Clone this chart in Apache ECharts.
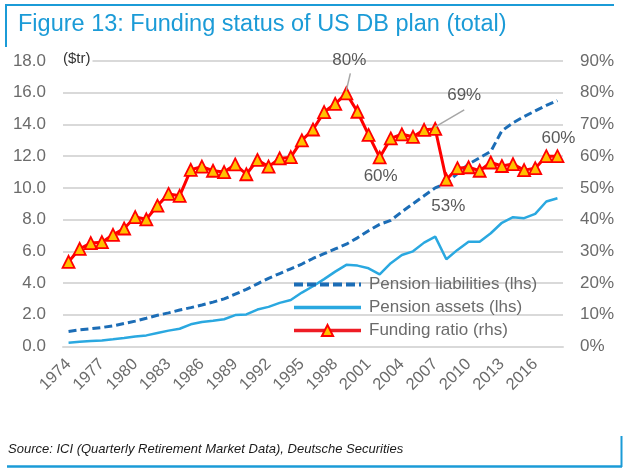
<!DOCTYPE html>
<html>
<head>
<meta charset="utf-8">
<script src="https://cdn.jsdelivr.net/npm/echarts@6/dist/echarts.min.js"></script>
<style>
html,body{margin:0;padding:0;background:#fff;}
#c{width:625px;height:476px;}
</style>
</head>
<body>
<div id="c"></div>
<script>
const years = ['1974','1975','1976','1977','1978','1979','1980','1981','1982','1983','1984','1985','1986','1987','1988','1989','1990','1991','1992','1993','1994','1995','1996','1997','1998','1999','2000','2001','2002','2003','2004','2005','2006','2007','2008','2009','2010','2011','2012','2013','2014','2015','2016','2017','2018'];
const liabilities = [0.95,1.05,1.12,1.2,1.3,1.45,1.6,1.78,1.97,2.12,2.3,2.45,2.62,2.8,3.0,3.3,3.6,3.95,4.3,4.6,4.9,5.2,5.55,5.85,6.15,6.45,6.85,7.3,7.7,7.95,8.5,9.0,9.5,10.0,10.3,10.9,11.5,11.9,12.3,13.6,14.1,14.5,14.85,15.2,15.5];
const assets = [0.24,0.3,0.35,0.38,0.45,0.53,0.63,0.7,0.85,1.0,1.12,1.4,1.55,1.62,1.72,1.98,2.02,2.33,2.5,2.75,2.93,3.4,3.8,4.25,4.72,5.15,5.1,4.93,4.55,5.25,5.77,6.0,6.55,6.93,5.5,6.09,6.61,6.61,7.14,7.8,8.15,8.09,8.36,9.14,9.35];
const fundingRatio = [26.7,30.8,32.6,32.9,35.2,37.2,40.8,40.1,44.4,48.1,47.5,55.7,56.7,55.4,55.0,57.4,54.3,58.8,56.7,59.3,59.7,65.0,68.4,73.9,76.5,79.8,74.0,66.7,59.6,65.6,66.9,66.1,68.3,68.6,52.6,56.2,56.5,55.4,58.0,56.9,57.5,55.6,56.2,60.0,60.0];
const leftTicks = {min:0, max:18, step:2};
const rightTicks = {min:0, max:90, step:10};
const seriesNames = ['Pension liabilities (lhs)','Pension assets (lhs)','Funding ratio (rhs)'];
const titleText = 'Figure 13: Funding status of US DB plan (total)';
const sourceText = 'Source: ICI (Quarterly Retirement Market Data), Deutsche Securities';
const unitText = '($tr)';
// annotated points: year -> label offset
const annotated = [
  {year:'1999', offset:[3,-33], leader:true, lead:[[4,-20],[0,-3]]},
  {year:'2002', offset:[1,19], leader:false},
  {year:'2007', offset:[29,-34], leader:true, lead:[[29,-19],[0,-2]]},
  {year:'2008', offset:[2,27], leader:false},
  {year:'2018', offset:[1,-17.5], leader:false}
];

const FONT = '"Liberation Sans", Arial, sans-serif';
const GREY = '#6b6b6b';
const BLUE = '#1b9bd7';
const LIAB = '#1c6db6';
const ASSET = '#2aa8e0';

const ratioData = fundingRatio.map((v,i)=>{
  const a = annotated.find(x=>x.year===years[i]);
  if(!a) return v;
  return {value:v, label:{show:true, position:'inside', offset:a.offset, formatter:(p)=>Math.round(p.value)+'%', color:'#595959', fontSize:17, fontFamily:FONT}};
});

const hiddenSym = {color:'rgba(0,0,0,0)', borderColor:'rgba(0,0,0,0)', opacity:0};

const chart = echarts.init(document.getElementById('c'), null, {renderer:'canvas'});
const option = {
  animation:false,
  backgroundColor:'#fff',
  textStyle:{fontFamily:FONT},
  title:{text:titleText, left:13, top:8, textStyle:{fontSize:23.5, fontWeight:'normal', color:BLUE, fontFamily:FONT}},
  grid:{left:63, right:62, top:61, bottom:129.5},
  legend:{
    orient:'vertical', left:287, top:271, itemWidth:67, itemHeight:14, itemGap:6,
    data:[
      {name:seriesNames[0], itemStyle:hiddenSym, lineStyle:{width:4, color:LIAB, type:[9,4]}},
      {name:seriesNames[1], itemStyle:hiddenSym, lineStyle:{width:3.5, color:ASSET}},
      {name:seriesNames[2], lineStyle:{width:3.5, color:'#ee1c25'}}
    ],
    textStyle:{color:GREY, fontSize:17, fontFamily:FONT, padding:[0,0,0,3]}
  },
  xAxis:{
    type:'category', data:years, boundaryGap:true,
    axisTick:{show:false},
    axisLine:{lineStyle:{color:'#d9d9d9', width:2}},
    axisLabel:{interval:2, rotate:45, fontSize:16.5, color:GREY, margin:15, fontFamily:FONT}
  },
  yAxis:[
    {type:'value', min:leftTicks.min, max:leftTicks.max, interval:leftTicks.step,
     name:unitText, nameLocation:'end', nameGap:2,
     nameTextStyle:{align:'left', verticalAlign:'middle', color:'#333', fontSize:15, fontFamily:FONT, backgroundColor:'#fff', padding:[0,2,0,0]},
     axisLabel:{formatter:(v)=>v.toFixed(1), fontSize:17, color:GREY, margin:17, fontFamily:FONT},
     axisLine:{show:false}, axisTick:{show:false},
     splitLine:{lineStyle:{color:'#d9d9d9', width:2}}},
    {type:'value', min:rightTicks.min, max:rightTicks.max, interval:rightTicks.step,
     axisLabel:{formatter:'{value}%', fontSize:17, color:GREY, margin:17, fontFamily:FONT},
     axisLine:{show:false}, axisTick:{show:false}, splitLine:{show:false}}
  ],
  series:[
    {name:seriesNames[0], type:'line', yAxisIndex:0, data:liabilities, symbol:'none',
     lineStyle:{color:LIAB, width:3, type:[8,4]}, itemStyle:{color:LIAB}, z:2},
    {name:seriesNames[1], type:'line', yAxisIndex:0, data:assets, symbol:'none',
     lineStyle:{color:ASSET, width:2.5}, itemStyle:{color:ASSET}, z:2},
    {name:seriesNames[2], type:'line', yAxisIndex:1, data:ratioData, symbol:'triangle', symbolSize:12, showAllSymbol:true,
     lineStyle:{color:'#ff0000', width:3}, itemStyle:{color:'#ffc000', borderColor:'#ff0000', borderWidth:1.8}, z:3}
  ]
};
chart.setOption(option);

const graphics = [
  {type:'line', shape:{x1:6, y1:5, x2:614, y2:5}, style:{stroke:BLUE, lineWidth:2}},
  {type:'line', shape:{x1:6, y1:4, x2:6, y2:47}, style:{stroke:BLUE, lineWidth:2}},
  {type:'line', shape:{x1:7, y1:466.5, x2:622, y2:466.5}, style:{stroke:BLUE, lineWidth:2.5}},
  {type:'line', shape:{x1:621.5, y1:436, x2:621.5, y2:467}, style:{stroke:BLUE, lineWidth:2}},
  {type:'text', left:8, top:443, style:{text:sourceText, font:'italic 13px '+FONT, fill:'#1a1a1a'}}
];
annotated.filter(a=>a.leader).forEach(a=>{
  const i = years.indexOf(a.year);
  const p = chart.convertToPixel({xAxisIndex:0, yAxisIndex:1}, [i, fundingRatio[i]]);
  graphics.push({type:'line', z:10, shape:{x1:p[0]+a.lead[0][0], y1:p[1]+a.lead[0][1], x2:p[0]+a.lead[1][0], y2:p[1]+a.lead[1][1]}, style:{stroke:'#a6a6a6', lineWidth:1.5}});
});
chart.setOption({graphic:graphics});
</script>
</body>
</html>
